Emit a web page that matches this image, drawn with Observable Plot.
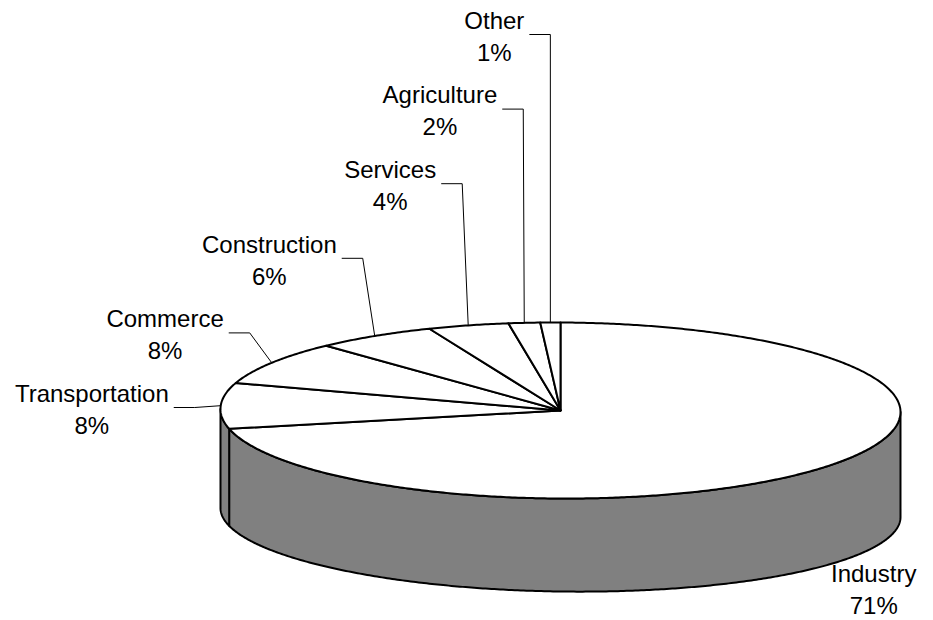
<!DOCTYPE html>
<html>
<head>
<meta charset="utf-8">
<script src="https://cdn.jsdelivr.net/npm/d3@7"></script>
<script src="https://cdn.jsdelivr.net/npm/@observablehq/plot@0.6"></script>
<style>
  html, body { margin: 0; padding: 0; background: #ffffff; }
  #chart { width: 933px; height: 620px; }
</style>
</head>
<body>
<div id="chart"></div>
<script>
// ---------------- data ----------------
const categories = ["Industry", "Transportation", "Commerce", "Construction", "Services", "Agriculture", "Other"];
const shares = [71.4, 8.4, 8.1, 5.8, 3.85, 1.5, 0.95];
const percentLabels = ["71%", "8%", "8%", "6%", "4%", "2%", "1%"];

// ---------------- layout ----------------
const W = 933, H = 620;
const CX = 560, RX = 340;          // ellipse centre x / horizontal radius (px)
const CY = 410, RY = 88, T1 = 1.5; // top face
const CYB = 512, RYB = 79, T2 = 4.5; // bottom rim (perspective)
const FONT = '"Liberation Sans", Arial, Helvetica, sans-serif';
const FS = 24, LH = 32;
const LABEL_BASE_Y = 407, STACK_STEP = 74.6;
const labelShift = [0, 52, 48, 38, 32, 27, 26]; // text right edge distance from anchor
const outsideOffset = {dx: 4.5, dy: 22.6};
const SIDE_FILL = "#808080", TOP_FILL = "#ffffff";

// ---------------- geometry ----------------
const rad = d => d * Math.PI / 180;
const topPt = t => [CX + RX * Math.sin(rad(t)), CY - RY * Math.cos(rad(t)) + T1 * Math.sin(rad(t))];
const botPt = t => [CX + RX * Math.sin(rad(t)), CYB - RYB * Math.cos(rad(t)) + T2 * Math.sin(rad(t))];
const ux = px => (px - CX) / RX;
const uy = py => (CY - py) / RY;

const total = d3.sum(shares);
let acc = 0;
const slices = categories.map((c, i) => {
  const a0 = acc / total * 360;
  acc += shares[i];
  const a1 = acc / total * 360;
  return {c, i, a0, a1, mid: (a0 + a1) / 2};
});

function arc(f, a0, a1) {
  const n = Math.max(2, Math.ceil(Math.abs(a1 - a0) / 0.5));
  return d3.range(n + 1).map(k => f(a0 + (a1 - a0) * k / n));
}

// side walls (visible front half: 90..270 deg clockwise from top)
const sideRows = [];
slices.forEach(s => {
  const a0 = Math.max(s.a0, 90), a1 = Math.min(s.a1, 270);
  if (a1 <= a0) return;
  const pts = [...arc(topPt, a0, a1), ...arc(botPt, a1, a0)];
  pts.forEach(p => sideRows.push({id: s.c, x: ux(p[0]), y: uy(p[1])}));
});

// top faces
const topRows = [];
slices.forEach(s => {
  const pts = [[CX, CY], ...arc(topPt, s.a0, s.a1)];
  pts.forEach(p => topRows.push({id: s.c, x: ux(p[0]), y: uy(p[1])}));
});

// labels
const ctx = document.createElement("canvas").getContext("2d");
ctx.font = `${FS}px ${FONT}`;
const labelRows = [];
const leaderRows = [];
slices.forEach(s => {
  const lines = [s.c, percentLabels[s.i]];
  const w = d3.max(lines, l => ctx.measureText(l).width);
  if (s.i === 0) {
    const [ax, ay] = botPt(s.mid);
    const left = ax + outsideOffset.dx;
    labelRows.push({x: ux(left + w / 2), y: uy(ay + outsideOffset.dy), text: lines.join("\n")});
  } else {
    const k = s.i - 1;
    const [ax, ay] = topPt(s.mid);
    const y = LABEL_BASE_Y - STACK_STEP * k;
    const right = ax - labelShift[s.i];
    labelRows.push({x: ux(right - w / 2), y: uy(y), text: lines.join("\n")});
    [[right + 5, y], [right + 26, y], [ax, ay]].forEach(p =>
      leaderRows.push({id: s.c, x: ux(p[0]), y: uy(p[1])}));
  }
});

const chart = Plot.plot({
  width: W,
  height: H,
  margin: 0,
  style: {background: "#ffffff", overflow: "visible"},
  x: {domain: [-1, 1], range: [CX - RX, CX + RX], axis: null},
  y: {domain: [-1, 1], range: [CY + RY, CY - RY], axis: null},
  marks: [
    Plot.line(sideRows, {x: "x", y: "y", z: "id", curve: "linear-closed",
      fill: SIDE_FILL, stroke: "#000", strokeWidth: 2, strokeLinejoin: "round"}),
    Plot.line(topRows, {x: "x", y: "y", z: "id", curve: "linear-closed",
      fill: TOP_FILL, stroke: "#000", strokeWidth: 2, strokeLinejoin: "round"}),
    Plot.line(leaderRows, {x: "x", y: "y", z: "id", stroke: "#000", strokeWidth: 1,
      strokeLinecap: "butt", strokeLinejoin: "miter"}),
    Plot.text(labelRows, {x: "x", y: "y", text: "text", fontSize: FS, fontFamily: FONT,
      lineHeight: LH / FS, textAnchor: "middle", lineAnchor: "middle", fill: "#000"})
  ]
});
document.getElementById("chart").appendChild(chart);
</script>
</body>
</html>
